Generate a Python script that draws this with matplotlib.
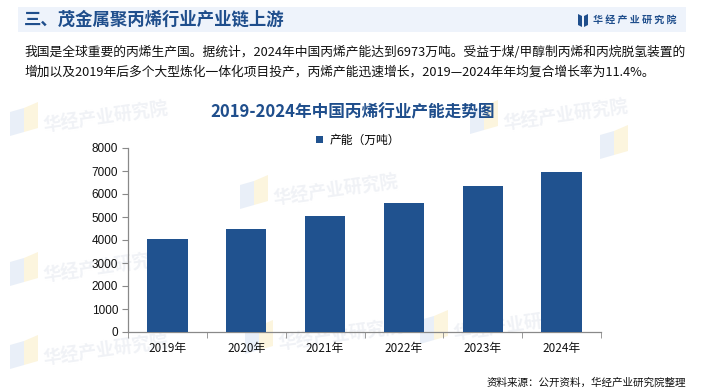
import matplotlib
matplotlib.use("Agg")
import matplotlib.pyplot as plt
from matplotlib.patches import Rectangle, Polygon

plt.rcParams['font.family'] = ['Noto Sans CJK SC', 'DejaVu Sans']

years = ["2019年", "2020年", "2021年", "2022年", "2023年", "2024年"]
capacity = [4050, 4480, 5050, 5600, 6350, 6973]
yticks = [0, 1000, 2000, 3000, 4000, 5000, 6000, 7000, 8000]
legend_label = "产能（万吨）"
header_title = "三、茂金属聚丙烯行业产业链上游"
brand = "华经产业研究院"
para_line1 = "我国是全球重要的丙烯生产国。据统计，2024年中国丙烯产能达到6973万吨。受益于煤/甲醇制丙烯和丙烷脱氢装置的"
para_line2 = "增加以及2019年后多个大型炼化一体化项目投产，丙烯产能迅速增长，2019—2024年年均复合增长率为11.4%。"
chart_title = "2019-2024年中国丙烯行业产能走势图"
source = "资料来源：公开资料，华经产业研究院整理"

BAR = "#20528f"
DARK = "#1f4e8c"

W, H = 705, 392
fig = plt.figure(figsize=(W / 100, H / 100), dpi=100)
fig.patch.set_facecolor("white")

def fx(px):
    return px / W

def fy(py):
    return 1 - py / H

# faint watermarks
wm_positions = [(10, 112), (240, 185), (470, 110), (600, 135), (10, 262), (245, 330), (10, 345), (420, 320)]
for (px, py) in wm_positions:
    fig.patches.append(Polygon([[fx(px), fy(py)], [fx(px + 14), fy(py - 4)], [fx(px + 14), fy(py + 20)], [fx(px), fy(py + 24)]],
                               closed=True, transform=fig.transFigure, facecolor="#e9eff8", edgecolor="none", zorder=-2))
    fig.patches.append(Polygon([[fx(px + 14), fy(py - 4)], [fx(px + 28), fy(py - 10)], [fx(px + 28), fy(py + 16)], [fx(px + 14), fy(py + 20)]],
                               closed=True, transform=fig.transFigure, facecolor="#fcf5de", edgecolor="none", zorder=-2))
    if px < 580:
        fig.text(fx(px + 32), fy(py + 6), brand, fontsize=13, fontweight="bold", color="#f0f2f6",
                 rotation=8, ha="left", va="center", zorder=-2)

# header band
fig.patches.append(Rectangle((fx(18), fy(32)), fx(686) - fx(18), fy(7) - fy(32),
                             transform=fig.transFigure, facecolor="#eef3fb", edgecolor="none", zorder=1))
fig.text(fx(24), fy(20), header_title, fontsize=12.5, fontweight="bold", color=DARK, ha="left", va="center", zorder=2)
# logo icon
fig.patches.append(Polygon([[fx(578), fy(14)], [fx(582), fy(16)], [fx(582), fy(27)], [fx(578), fy(25)]], closed=True,
                           transform=fig.transFigure, facecolor=DARK, edgecolor="none", zorder=2))
fig.patches.append(Polygon([[fx(584), fy(16)], [fx(588), fy(14)], [fx(588), fy(25)], [fx(584), fy(27)]], closed=True,
                           transform=fig.transFigure, facecolor=DARK, edgecolor="none", zorder=2))
fig.text(fx(593), fy(20), " ".join(brand), fontsize=7.2, fontweight="bold",
         color=DARK, ha="left", va="center", zorder=2)

# paragraph
fig.text(fx(24), fy(52), para_line1, fontsize=9.2, color="#111111", ha="left", va="center")
fig.text(fx(24), fy(72), para_line2, fontsize=9.2, color="#111111", ha="left", va="center")

# chart title
fig.text(fx(353), fy(112), chart_title, fontsize=12, fontweight="bold", color=DARK, ha="center", va="center")

# axes
ax = fig.add_axes([fx(128), fy(332), fx(601) - fx(128), fy(148) - fy(332)])
ax.set_facecolor("none")
x = list(range(len(years)))
ax.bar(x, capacity, width=0.51, color=BAR, label=legend_label, zorder=3)
ax.set_xlim(-0.5, len(years) - 0.5)
ax.set_ylim(0, 8000)
ax.set_yticks(yticks)
ax.set_yticklabels([str(v) for v in yticks], fontsize=8.5, family=["Liberation Sans", "DejaVu Sans"])
ax.set_xticks(x)
ax.set_xticklabels(years, fontsize=8.5)
ax.set_xticks([i - 0.5 for i in range(len(years) + 1)], minor=True)
ax.tick_params(axis="x", which="major", length=0, pad=7, colors="#111111")
ax.tick_params(axis="x", which="minor", length=4, color="#898989", direction="out")
ax.tick_params(axis="y", length=4, color="#898989", colors="#111111", pad=3)
for s in ["top", "right"]:
    ax.spines[s].set_visible(False)
for s in ["left", "bottom"]:
    ax.spines[s].set_color("#898989")
    ax.spines[s].set_linewidth(0.9)

leg = fig.legend(loc="center", bbox_to_anchor=(fx(358), fy(140)), frameon=False, fontsize=8.5,
                 handlelength=0.6, handleheight=0.6, handletextpad=0.5)

fig.text(fx(686), fy(383), source, fontsize=7.6, color="#111111", ha="right", va="center")

fig.savefig("out.png", dpi=100)
